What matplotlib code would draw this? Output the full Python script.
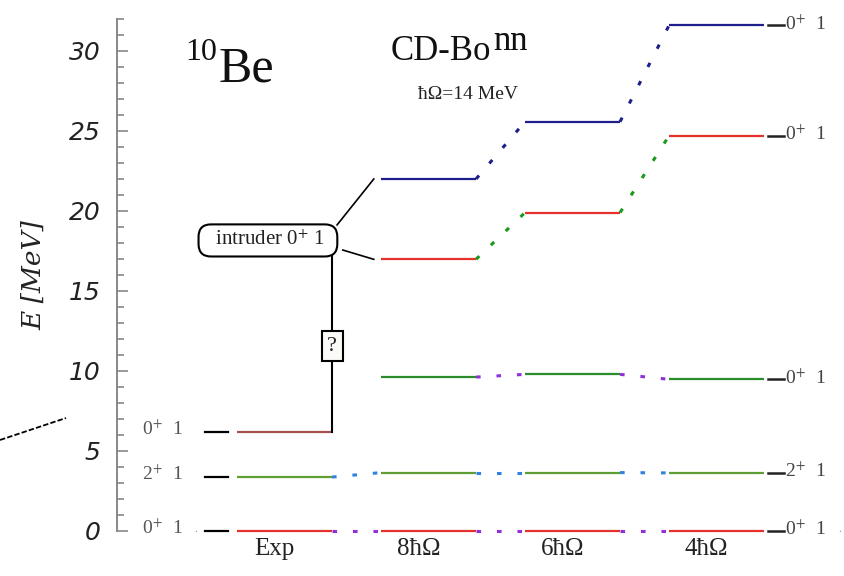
import matplotlib
matplotlib.use("Agg")
import matplotlib.pyplot as plt
from matplotlib.lines import Line2D

plt.rcParams['mathtext.fontset'] = 'stix'
SERIF = ['Liberation Serif', 'DejaVu Serif']

# level scheme of 10Be, energies in MeV
columns = ["Exp", "8ħΩ", "6ħΩ", "4ħΩ"]
ground = [0.0, 0.0, 0.0, 0.0]
two_plus = [3.37, 3.65, 3.65, 3.63]
exp_intruder = 6.18
zero_second = [9.62, 9.79, 9.48]          # 8, 6, 4 hbar-omega
zero_red = [16.98, 19.9, 24.7]
zero_blue = [22.0, 25.58, 31.6]
exp_labels = ["0$^{+}$  1", "2$^{+}$  1", "0$^{+}$  1"]
right_labels = ["0$^{+}$  1", "2$^{+}$  1", "0$^{+}$  1", "0$^{+}$  1", "0$^{+}$  1"]

RED = "#e5302c"
GREEN_LO = "#5e9e34"
GREEN_HI = "#2a8c2a"
NAVY = "#1e1e8c"
BROWN = "#a85050"
PURPLE = "#9030d8"
LBLUE = "#2f82e0"
DOTGREEN = "#1a9a1a"

hw = 0.33
xs = list(range(len(columns)))

fig = plt.figure(figsize=(8.44, 5.76), dpi=100)
ax = fig.add_axes([117/844, 45/576, 727/844, 512/576])
ax.set_xlim(-1.163, 3.885)
ax.set_ylim(0, 32)

for s in ['top', 'right', 'bottom']:
    ax.spines[s].set_visible(False)
ax.spines['left'].set_color('#888888')
ax.spines['left'].set_linewidth(1.4)
ax.set_xticks([])
ax.set_yticks(range(0, 31, 5))
ax.set_yticks(range(0, 33), minor=True)
ax.tick_params(axis='y', which='both', direction='in', color='#888888', width=1.2)
ax.tick_params(axis='y', which='major', length=8, pad=12)
ax.tick_params(axis='y', which='minor', length=5)
for lab in ax.get_yticklabels():
    lab.set_fontsize(18)
    lab.set_fontstyle('italic')
    lab.set_family('DejaVu Sans')
    lab.set_color('#222222')
ax.set_ylabel("E [MeV]", fontsize=19, fontstyle='italic',
              family='DejaVu Serif', labelpad=16, color='#222222')


def level(x, y, color):
    ax.plot([x - hw, x + hw], [y, y], color=color, lw=1.6, clip_on=False,
            solid_capstyle='butt')


def link(x0, y0, x1, y1, color):
    ax.plot([x0 + hw, x1 - hw], [y0, y1], color=color, lw=2.2, clip_on=False,
            dashes=(1.5, 5.2), dash_capstyle='butt')


# experimental column
level(xs[0], ground[0], RED)
level(xs[0], two_plus[0], GREEN_LO)
level(xs[0], exp_intruder, BROWN)

# theory columns
for i in range(1, 4):
    level(xs[i], ground[i], RED)
    level(xs[i], two_plus[i], GREEN_LO)
    level(xs[i], zero_second[i - 1], GREEN_HI)
    level(xs[i], zero_red[i - 1], RED)
    level(xs[i], zero_blue[i - 1], NAVY)

# dotted connectors between columns
for i in range(3):
    link(xs[i], ground[i], xs[i + 1], ground[i + 1], PURPLE)
    link(xs[i], two_plus[i], xs[i + 1], two_plus[i + 1], LBLUE)
for i in range(1, 3):
    link(xs[i], zero_second[i - 1], xs[i + 1], zero_second[i], PURPLE)
    link(xs[i], zero_red[i - 1], xs[i + 1], zero_red[i], DOTGREEN)
    link(xs[i], zero_blue[i - 1], xs[i + 1], zero_blue[i], NAVY)

# experimental labels on the left
for y, lab in zip([ground[0], two_plus[0], exp_intruder], exp_labels):
    ax.plot([-0.55, -0.39], [y, y], color='black', lw=1.6, clip_on=False)
    ax.text(-0.705, y + 0.2, lab, ha='right', va='center', fontsize=14,
            family=SERIF, color='#555555')
ax.text(-0.615, ground[0] + 0.1, ".", ha='center', va='center', fontsize=8,
        family=SERIF, color='#888888')

# labels on the right of the 4 hbar-omega column
right_levels = [ground[3], two_plus[3], zero_second[2], zero_red[2], zero_blue[2]]
for y, lab in zip(right_levels, right_labels):
    ax.plot([3.36, 3.47], [y, y], color='#222222', lw=1.8, clip_on=False)
    ax.text(3.475, y + 0.1, lab, ha='left', va='center', fontsize=14,
            family=SERIF, color='#444444')
ax.text(3.855, ground[3] + 0.1, ".", ha='center', va='center', fontsize=8,
        family=SERIF, color='#888888')

# column names
for x, name in zip(xs, columns):
    ax.text(x - 0.07, -1.1, name, ha='center', va='center', fontsize=18,
            family=SERIF, color='#222222')

# intruder state box and its links
bx, by = -0.115, 18.16
ax.text(bx, by, "  intruder 0$^{+}$ 1  ", ha='center', va='center', fontsize=15,
        family=SERIF, color='#222222',
        bbox=dict(boxstyle='round,pad=0.3,rounding_size=0.6', fc='white',
                  ec='black', lw=1.5))
ax.plot([bx + 0.48, xs[1] - hw - 0.05], [by + 0.97, zero_blue[0]], color='black', lw=1.2)
ax.plot([bx + 0.52, xs[1] - hw - 0.05], [by - 0.6, zero_red[0]], color='black', lw=1.2)
ax.plot([xs[0] + hw, xs[0] + hw], [exp_intruder, by - 0.97], color='black', lw=1.5)
ax.text(xs[0] + hw, 11.56, "?", ha='center', va='center', fontsize=16,
        family=SERIF, color='#222222', zorder=5,
        bbox=dict(boxstyle='square,pad=0.25', fc='#fbfaf6', ec='black', lw=1.5))

# headings
fig.text(185/844, 1 - 38/576, "10", ha='left', va='top', fontsize=23,
         family=SERIF, color='#111111')
fig.text(219/844, 1 - 82/576, "Be", ha='left', va='baseline', fontsize=36,
         family=SERIF, color='#111111')
fig.text(391/844, 1 - 60/576, "CD-Bo", ha='left', va='baseline', fontsize=25,
         family=SERIF, color='#111111')
fig.text(493/844, 1 - 50/576, "nn", ha='left', va='baseline', fontsize=25,
         family=SERIF, color='#111111')
fig.text(468/844, 1 - 99/576, "ħΩ=14 MeV", ha='center', va='baseline', fontsize=14,
         family=SERIF, color='#222222')

# stray dashed stroke at the lower left
fig.add_artist(Line2D([0, 66/844], [1 - 440/576, 1 - 418/576], color='black',
                      lw=1.3, dashes=(3, 1.2), transform=fig.transFigure))

fig.savefig("out.png", dpi=100)
